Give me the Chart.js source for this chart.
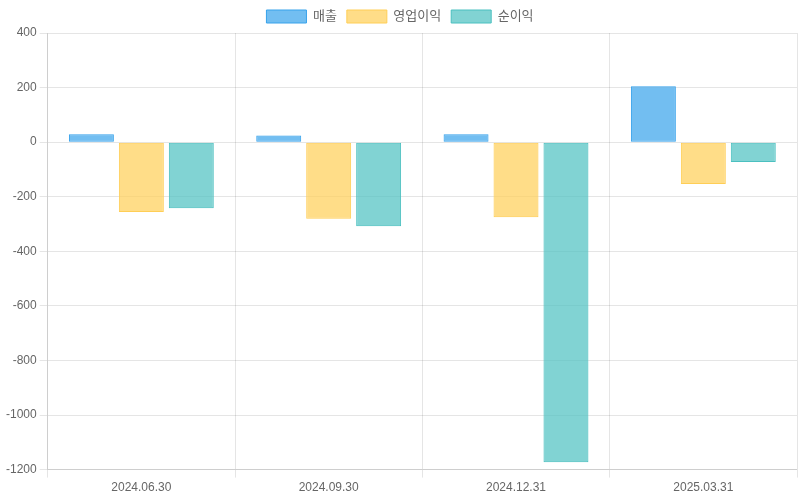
<!DOCTYPE html>
<html lang="ko">
<head>
    <meta charset="UTF-8">
    <title>실적</title>
    <script src="https://cdn.jsdelivr.net/npm/chart.js"></script>
    <style>
        html, body { margin: 0; padding: 0; background: #fff; }
        .chart-container { position: relative; width: 800px; height: 500px; }
    </style>
</head>
<body>
    <div class="chart-container">
        <canvas id="finChart"></canvas>
    </div>
    <script>
        // Data
        const periods = ['2024.06.30', '2024.09.30', '2024.12.31', '2025.03.31'];
        const revenue = [29, 24, 29, 205];
        const operatingProfit = [-256, -281, -275, -153];
        const netProfit = [-242, -308, -1173, -73];

        Chart.defaults.font.family = "'Liberation Sans', Arial, 'Noto Sans CJK KR', sans-serif";
        Chart.defaults.color = '#666';

        const ctx = document.getElementById('finChart').getContext('2d');
        new Chart(ctx, {
            type: 'bar',
            data: {
                labels: periods,
                datasets: [{
                    label: '매출',
                    data: revenue,
                    backgroundColor: 'rgba(54, 162, 235, 0.7)',
                    borderColor: 'rgba(54, 162, 235, 1)',
                    borderWidth: 1,
                    borderSkipped: false
                }, {
                    label: '영업이익',
                    data: operatingProfit,
                    backgroundColor: 'rgba(255, 206, 86, 0.7)',
                    borderColor: 'rgba(255, 206, 86, 1)',
                    borderWidth: 1,
                    borderSkipped: false
                }, {
                    label: '순이익',
                    data: netProfit,
                    backgroundColor: 'rgba(75, 192, 192, 0.7)',
                    borderColor: 'rgba(75, 192, 192, 1)',
                    borderWidth: 1,
                    borderSkipped: false
                }]
            },
            options: {
                responsive: true,
                maintainAspectRatio: false,
                animation: false,
                layout: { padding: { left: 3, right: 3, bottom: 2 } },
                plugins: {
                    legend: {
                        position: 'top',
                        labels: { font: { size: 13 } }
                    }
                },
                scales: {
                    y: {
                        min: -1200,
                        max: 400,
                        ticks: {
                            stepSize: 200,
                            callback: v => String(v)
                        }
                    }
                }
            }
        });
    </script>
</body>
</html>
